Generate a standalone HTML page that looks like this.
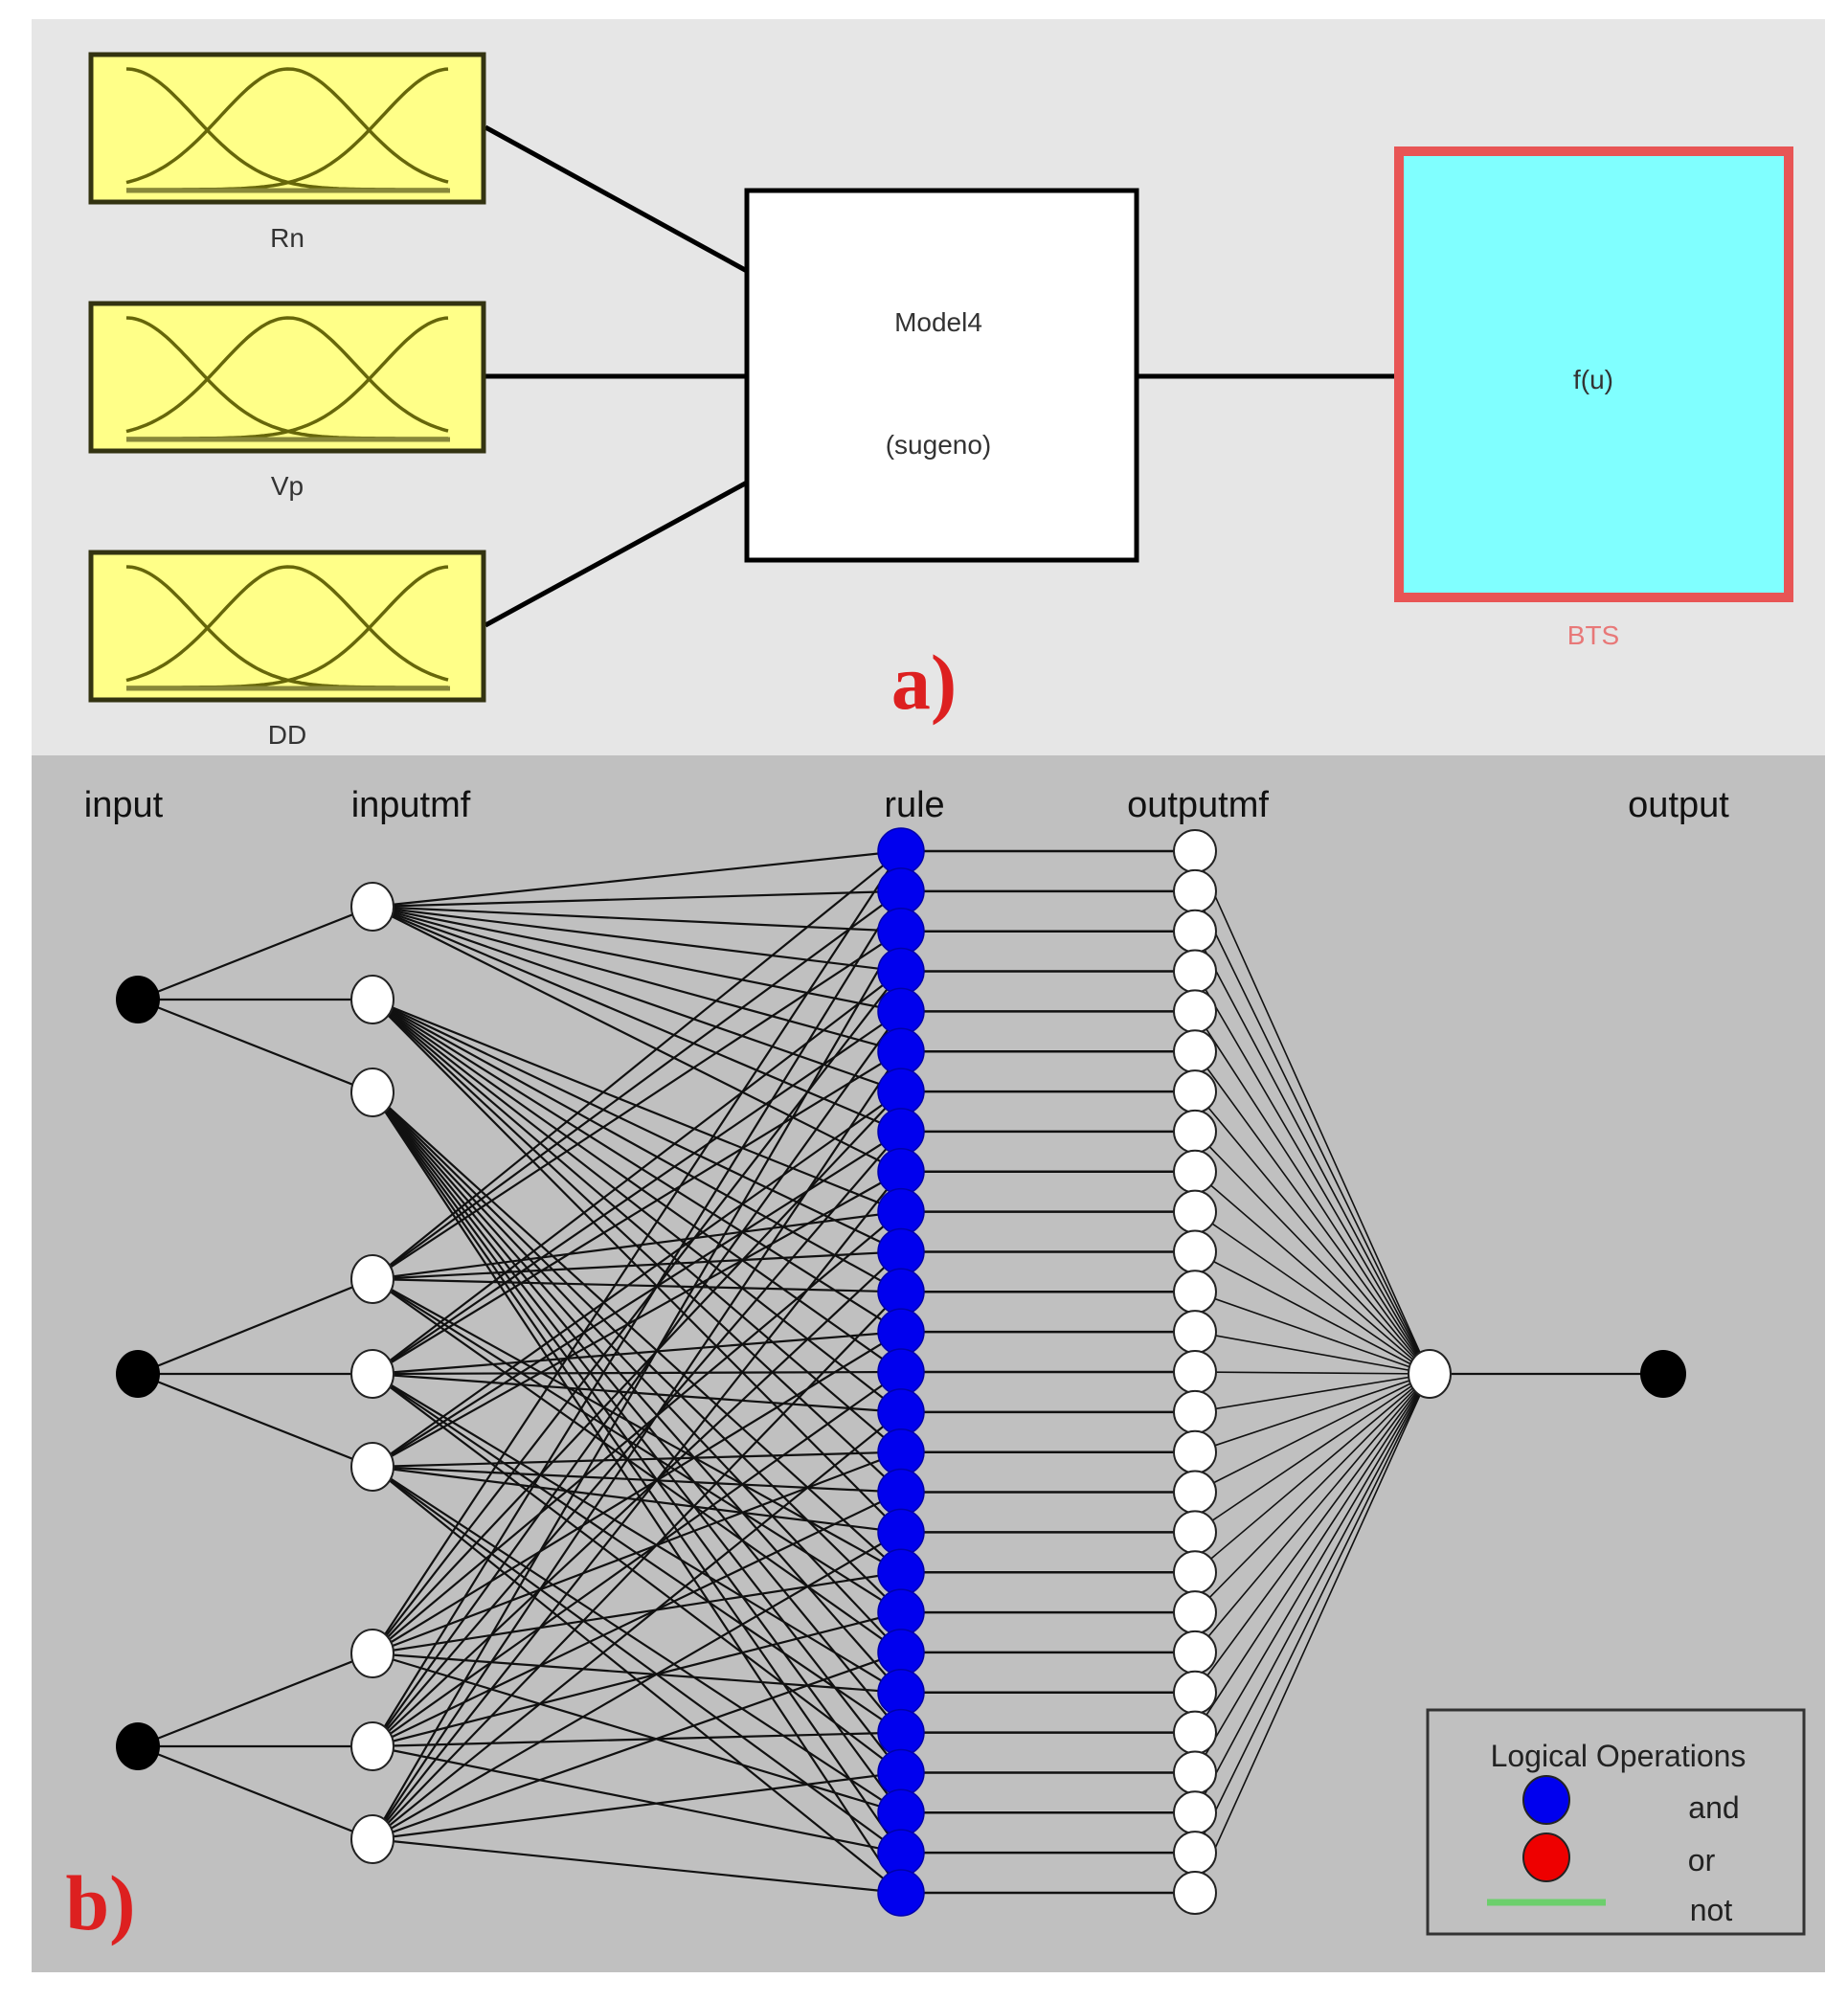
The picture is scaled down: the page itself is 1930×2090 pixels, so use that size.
<!DOCTYPE html>
<html><head><meta charset="utf-8">
<style>
html,body{margin:0;padding:0;background:#fff;}
svg{display:block;}
text{font-family:"Liberation Sans",Arial,sans-serif;}
</style></head>
<body>
<svg id="s" width="1930" height="2090" viewBox="0 0 1930 2090" xmlns="http://www.w3.org/2000/svg">
<rect x="0" y="0" width="1930" height="2090" fill="#ffffff"/>
<rect x="33" y="20" width="1873" height="769" fill="#e6e6e6"/>
<rect x="33" y="789" width="1873" height="1271" fill="#c0c0c0"/>
<g stroke="#000" stroke-width="5">
<line x1="507" y1="133" x2="780" y2="283"/>
<line x1="507" y1="393" x2="780" y2="393"/>
<line x1="507" y1="653" x2="780" y2="504"/>
<line x1="1189" y1="393" x2="1456" y2="393"/>
</g>
<g id="mfboxes"></g>
<rect x="780" y="199" width="407" height="386" fill="#fff" stroke="#000" stroke-width="5"/>
<text x="980" y="346" font-size="28" text-anchor="middle" fill="#333">Model4</text>
<text x="980" y="474" font-size="28" text-anchor="middle" fill="#333">(sugeno)</text>
<rect x="1461" y="158" width="407" height="466" fill="#80ffff" stroke="#e85555" stroke-width="10"/>
<text x="1664" y="406" font-size="28" text-anchor="middle" fill="#333">f(u)</text>
<text x="1664" y="673" font-size="28" text-anchor="middle" fill="#e87878">BTS</text>
<text x="300" y="258" font-size="28" text-anchor="middle" fill="#333">Rn</text>
<text x="300" y="517" font-size="28" text-anchor="middle" fill="#333">Vp</text>
<text x="300" y="777" font-size="28" text-anchor="middle" fill="#333">DD</text>
<text x="965" y="740" font-size="82" font-weight="bold" text-anchor="middle" fill="#dd2020" style="font-family:'Liberation Serif',serif">a)</text>
<g font-size="38" fill="#111" text-anchor="middle">
<text x="129" y="853">input</text>
<text x="429" y="853">inputmf</text>
<text x="955" y="853">rule</text>
<text x="1251" y="853">outputmf</text>
<text x="1753" y="853">output</text>
</g>
<g id="net"></g>
<rect x="1491" y="1786" width="393" height="234" fill="none" stroke="#333" stroke-width="3"/>
<text x="1690" y="1845" font-size="32" text-anchor="middle" fill="#222">Logical Operations</text>
<ellipse cx="1615" cy="1880" rx="24" ry="25" fill="#0000ee" stroke="#222" stroke-width="2"/>
<ellipse cx="1615" cy="1940" rx="24" ry="25" fill="#ee0000" stroke="#222" stroke-width="2"/>
<line x1="1553" y1="1987" x2="1677" y2="1987" stroke="#6ccf6c" stroke-width="7"/>
<text x="1790" y="1899" font-size="32" text-anchor="middle" fill="#222">and</text>
<text x="1777" y="1954" font-size="32" text-anchor="middle" fill="#222">or</text>
<text x="1787" y="2006" font-size="32" text-anchor="middle" fill="#222">not</text>
<text x="105" y="2015" font-size="82" font-weight="bold" text-anchor="middle" fill="#dd2020" style="font-family:'Liberation Serif',serif">b)</text>
</svg>
<script>
var NS="http://www.w3.org/2000/svg";
function el(p,n,a){var e=document.createElementNS(NS,n);for(var k in a)e.setAttribute(k,a[k]);p.appendChild(e);return e;}
var mb=document.getElementById("mfboxes");
[55,315,575].forEach(function(y0){
  el(mb,"rect",{x:95,y:y0+2,width:410,height:154,fill:"#ffff88",stroke:"#333311","stroke-width":5});
  var x0=132,x1=470,top=y0+17,bot=y0+143;
  var cs=[x0,(x0+x1)/2,x1],sig=(x1-x0)/2*0.42;
  cs.forEach(function(c){
    var d="";
    for(var x=x0;x<=x1;x+=3){var v=Math.exp(-(x-c)*(x-c)/(2*sig*sig));var y=bot-(bot-top)*v;d+=(d?"L":"M")+x.toFixed(1)+","+y.toFixed(1);}
    el(mb,"path",{d:d,fill:"none",stroke:"#66660a","stroke-width":3.5});
  });
  el(mb,"line",{x1:x0,y1:bot+1,x2:x1,y2:bot+1,stroke:"#88883a","stroke-width":5});
});
var g=document.getElementById("net");
var inY=[1044,1435,1824],inX=144;
var mfX=389,mfY=[[947,1044,1141],[1336,1435,1532],[1727,1824,1921]];
var rX=941,oX=1248,aggX=1493,aggY=1435,outX=1737;
var rY=[];for(var i=0;i<27;i++)rY.push(889+i*(1977-889)/26);
var L=el(g,"g",{stroke:"#111","stroke-width":2.2});
for(var a=0;a<3;a++)for(var m=0;m<3;m++)el(L,"line",{x1:inX,y1:inY[a],x2:mfX,y2:mfY[a][m]});
for(var i=0;i<27;i++){
  var idx=[Math.floor(i/9),Math.floor(i/3)%3,i%3];
  for(var a=0;a<3;a++)el(L,"line",{x1:mfX,y1:mfY[a][idx[a]],x2:rX,y2:rY[i],"stroke-width":2.2});
  el(L,"line",{x1:rX,y1:rY[i],x2:oX,y2:rY[i],"stroke-width":2.5});
  el(L,"line",{x1:oX,y1:rY[i],x2:aggX,y2:aggY,"stroke-width":1.6});
}
el(L,"line",{x1:aggX,y1:aggY,x2:outX,y2:aggY});
inY.forEach(function(y){el(g,"ellipse",{cx:inX,cy:y,rx:23,ry:25,fill:"#000"});});
mfY.forEach(function(r){r.forEach(function(y){el(g,"ellipse",{cx:mfX,cy:y,rx:22,ry:25,fill:"#fff",stroke:"#222","stroke-width":2});});});
rY.forEach(function(y){el(g,"ellipse",{cx:rX,cy:y,rx:24,ry:24,fill:"#0000ee",stroke:"#0000aa","stroke-width":1.5});});
rY.forEach(function(y){el(g,"ellipse",{cx:oX,cy:y,rx:22,ry:22,fill:"#fff",stroke:"#222","stroke-width":2});});
el(g,"ellipse",{cx:aggX,cy:aggY,rx:22,ry:25,fill:"#fff",stroke:"#222","stroke-width":2});
el(g,"ellipse",{cx:outX,cy:aggY,rx:24,ry:25,fill:"#000"});
</script>
</body></html>
